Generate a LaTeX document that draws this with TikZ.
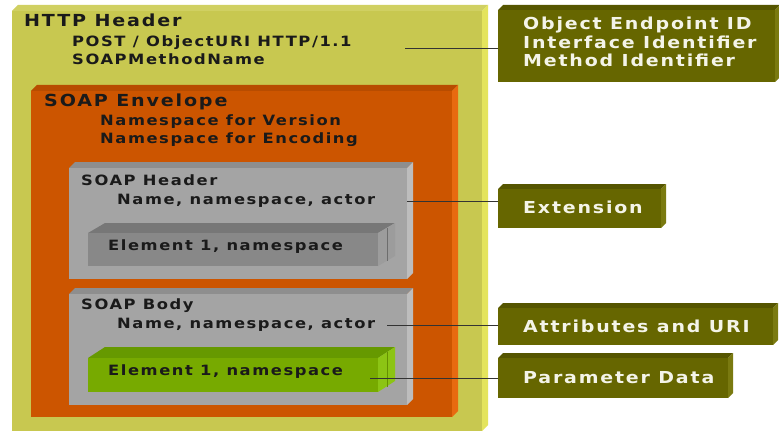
\documentclass[tikz,border=0pt]{standalone}
\usepackage{fontspec}
\newfontfamily\lbf[LetterSpace=11, FakeStretch=1.15]{DejaVu Sans}
\definecolor{yelF}{HTML}{C8C850}
\definecolor{yelT}{HTML}{D0D062}
\definecolor{yelR}{HTML}{E4E45C}
\definecolor{orgF}{HTML}{CC5500}
\definecolor{orgT}{HTML}{B84C00}
\definecolor{orgR}{HTML}{E86A10}
\definecolor{gryF}{HTML}{A4A4A4}
\definecolor{gryT}{HTML}{8E8E8E}
\definecolor{gryR}{HTML}{BDBDBD}
\definecolor{dgrF}{HTML}{888888}
\definecolor{dgrT}{HTML}{777777}
\definecolor{dgrR}{HTML}{9C9C9C}
\definecolor{grnF}{HTML}{77AA00}
\definecolor{grnT}{HTML}{669900}
\definecolor{grnR}{HTML}{8CC414}
\definecolor{olvF}{HTML}{666600}
\definecolor{olvT}{HTML}{555500}
\definecolor{olvR}{HTML}{7A7A10}
\definecolor{darktext}{HTML}{1A1A1A}
\definecolor{lighttext}{HTML}{F4F4E8}
\definecolor{linecol}{HTML}{333333}
% 3D box: name, x1, y1, x2, y2 (front face), dx, dy, colour prefix
\newcommand\tdbox[8]{%
  \fill[#8T] (#2,#3) -- (#2+#6,#3-#7) -- (#4+#6,#3-#7) -- (#4,#3) -- cycle;
  \fill[#8R] (#4,#3) -- (#4+#6,#3-#7) -- (#4+#6,#5-#7) -- (#4,#5) -- cycle;
  \node[inner sep=0pt, outer sep=0pt, fill=#8F, anchor=north west,
        minimum width={(#4-#2)*1pt}, minimum height={(#5-#3)*1pt}] (#1) at (#2,#3) {};
}
\tikzset{
  dtxt/.style={anchor=base west, inner sep=0pt, text=darktext, font={\lbf\bfseries\fontsize{14.2}{17}\selectfont}},
  dhead/.style={dtxt, font={\lbf\bfseries\fontsize{16.6}{20}\selectfont}},
  ltxt/.style={anchor=base west, inner sep=0pt, text=lighttext, font={\lbf\bfseries\fontsize{16.5}{20}\selectfont}},
  conn/.style={draw=linecol, line width=1pt},
}
\begin{document}
\begin{tikzpicture}[x=1pt,y=-1pt]
\useasboundingbox (0,0) rectangle (779,433);
\fill[white] (0,0) rectangle (779,433);
% HTTP header
\tdbox{http}{12}{11}{482}{431}{6}{6}{yel}
\node[dhead] (httpt) at (24,27) {HTTP Header};
\node[dtxt] (post) at (72,47) {POST / ObjectURI HTTP/1.1};
\node[dtxt] (smn) at (72,65) {SOAPMethodName};
% SOAP envelope
\tdbox{env}{31}{91}{452}{417}{6}{6}{org}
\node[dhead] (envt) at (44,107) {SOAP Envelope};
\node[dtxt] (nsv) at (100,126) {Namespace for Version};
\node[dtxt] (nse) at (100,144) {Namespace for Encoding};
% SOAP header
\tdbox{sh}{69}{168}{407}{279}{6}{6}{gry}
\node[dtxt] (sht) at (81,185) {SOAP Header};
\node[dtxt] (shn) at (117,204) {Name, namespace, actor};
\tdbox{she}{88}{233}{378}{266}{17}{10}{dgr}
\draw[dgrF!80!black, line width=0.6pt] (387,228) -- (387,261);
\node[dtxt] (shet) at (108,250) {Element 1, namespace};
% SOAP body
\tdbox{sb}{69}{294}{407}{405}{6}{6}{gry}
\node[dtxt] (sbt) at (81,309) {SOAP Body};
\node[dtxt] (sbn) at (117,328) {Name, namespace, actor};
\tdbox{sbe}{88}{358}{378}{392}{17}{11}{grn}
\draw[grnF!85!black, line width=0.6pt] (387,352) -- (387,387);
\node[dtxt] (sbet) at (108,375) {Element 1, namespace};
% labels
\tdbox{l1}{498}{10}{775}{82}{5}{5}{olv}
\node[ltxt] at (523,30) {Object Endpoint ID};
\node[ltxt] at (523,49) {Interface Identifier};
\node[ltxt] at (523,67) {Method Identifier};
\tdbox{l2}{498}{189}{661}{228}{5}{5}{olv}
\node[ltxt] at (523,213) {Extension};
\tdbox{l3}{498}{308}{773}{345}{5}{5}{olv}
\node[ltxt] at (523,332) {Attributes and URI};
\tdbox{l4}{498}{358}{728}{398}{5}{5}{olv}
\node[ltxt] at (523,383) {Parameter Data};
% connectors
\coordinate (c1) at (405,49);
\coordinate (c2) at (407,201);
\coordinate (c3) at (387,325);
\coordinate (c4) at (370,378);
\draw[conn] (c1) -- (c1 -| l1.west);
\draw[conn] (c2) -- (c2 -| l2.west);
\draw[conn] (c3) -- (c3 -| l3.west);
\draw[conn] (c4) -- (c4 -| l4.west);
\end{tikzpicture}
\end{document}
